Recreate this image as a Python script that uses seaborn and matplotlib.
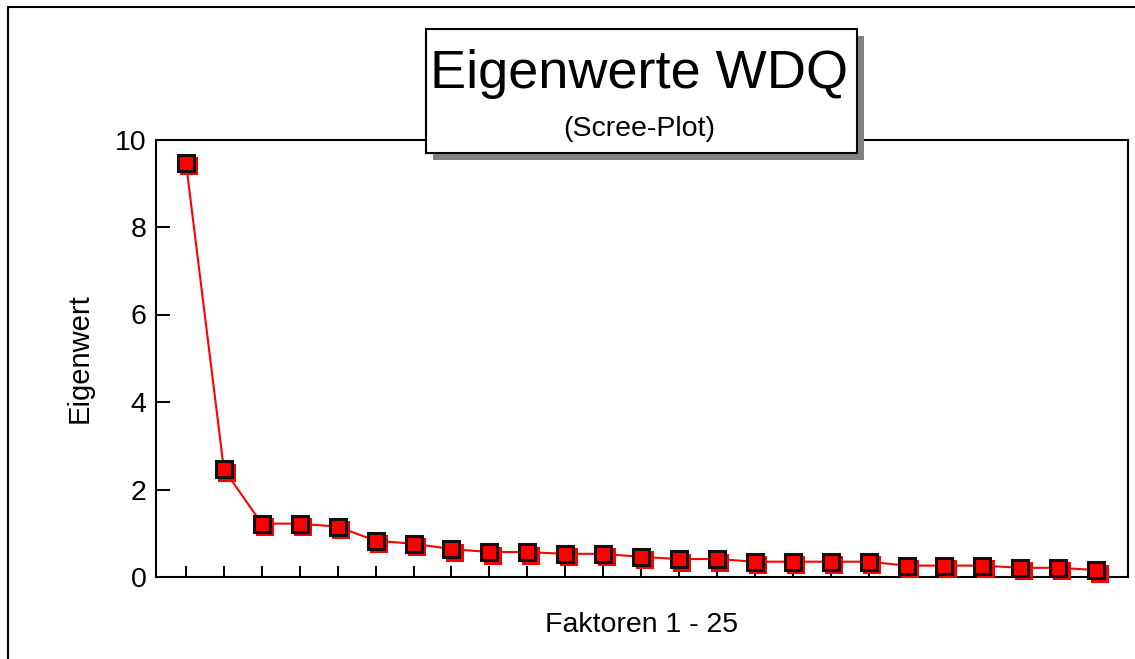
import matplotlib
matplotlib.use("Agg")
import matplotlib.pyplot as plt
import matplotlib.transforms as mtransforms
from matplotlib.patches import Rectangle
import seaborn as sns
import pandas as pd

# ---- data ----
factors = list(range(1, 26))
eigenvalues = [9.47, 2.46, 1.22, 1.22, 1.15, 0.83, 0.76, 0.64, 0.57, 0.57,
               0.53, 0.53, 0.46, 0.41, 0.41, 0.35, 0.35, 0.35, 0.35, 0.26,
               0.26, 0.26, 0.21, 0.21, 0.16]
y_ticks = [0, 2, 4, 6, 8, 10]
title_text = "Eigenwerte WDQ"
subtitle_text = "(Scree-Plot)"
x_label = "Faktoren 1 - 25"
y_label = "Eigenwert"

df = pd.DataFrame({"Faktor": factors, "Eigenwert": eigenvalues})

sns.set_theme(style="white")
plt.rcParams["font.family"] = ["Liberation Sans", "DejaVu Sans"]

W, H = 1135, 659
fig = plt.figure(figsize=(W / 100, H / 100), dpi=100)
fig.patch.set_facecolor("white")

# axes placement (pixels from top-left)
ax_l, ax_r, ax_t, ax_b = 156, 1128, 139.5, 577
ax = fig.add_axes([ax_l / W, (H - ax_b) / H, (ax_r - ax_l) / W, (ax_b - ax_t) / H])
ax.set_facecolor("white")

# red shadow squares (offset down-right)
shadow = mtransforms.offset_copy(ax.transData, fig=fig, x=3.5, y=-3.5, units="dots")
sns.lineplot(data=df, x="Faktor", y="Eigenwert", ax=ax, color="red",
             linestyle="none", marker="s", ms=13.5, mew=0,
             markerfacecolor="red", errorbar=None, transform=shadow,
             clip_on=False, zorder=3)
# main line + black-edged red squares
sns.lineplot(data=df, x="Faktor", y="Eigenwert", ax=ax, color="red",
             linewidth=1.5, marker="s", ms=11.5, mew=2.2,
             markerfacecolor="red", markeredgecolor="#111111", errorbar=None,
             clip_on=False, zorder=4)

ax.set_xlim(0.21, 25.84)
ax.set_ylim(0, 10)
ax.set_xticks(factors)
ax.set_xticklabels([])
ax.set_yticks(y_ticks)
ax.set_yticklabels([str(v) for v in y_ticks])
ax.tick_params(axis="y", direction="in", length=10, width=1.4, color="black",
               labelsize=20.5, pad=7, left=True, labelcolor="black")
ax.tick_params(axis="x", direction="in", length=8, width=1.4, color="black",
               bottom=True)
for s in ax.spines.values():
    s.set_visible(True)
    s.set_color("black")
    s.set_linewidth(1.5)

ax.set_xlabel(x_label, fontsize=20.5, color="black")
ax.set_ylabel(y_label, fontsize=21, color="black")
ax.xaxis.set_label_coords(0.5, -0.079)
ax.yaxis.set_label_coords(-0.064, 0.5)

# outer frame
fig.patches.append(Rectangle((8 / W, -0.2), 1.2, (H - 7) / H + 0.2,
                             transform=fig.transFigure, fill=False,
                             edgecolor="black", linewidth=1.5, zorder=0.5))

# title box with shadow
bx0, bx1, by0, by1 = 426, 857, 29, 153
sh = 7
fig.patches.append(Rectangle(((bx0 + sh) / W, (H - by1 - sh) / H),
                             (bx1 - bx0) / W, (by1 - by0) / H,
                             transform=fig.transFigure, facecolor="#808080",
                             edgecolor="none", zorder=5))
fig.patches.append(Rectangle((bx0 / W, (H - by1) / H),
                             (bx1 - bx0) / W, (by1 - by0) / H,
                             transform=fig.transFigure, facecolor="white",
                             edgecolor="black", linewidth=1.5, zorder=6))
fig.text(639 / W, (H - 88) / H, title_text, fontsize=39, ha="center",
         va="baseline", color="black", zorder=7)
fig.text(639 / W, (H - 136) / H, subtitle_text, fontsize=20.5, ha="center",
         va="baseline", color="black", zorder=7)

fig.savefig("out.png", dpi=100, facecolor="white")
